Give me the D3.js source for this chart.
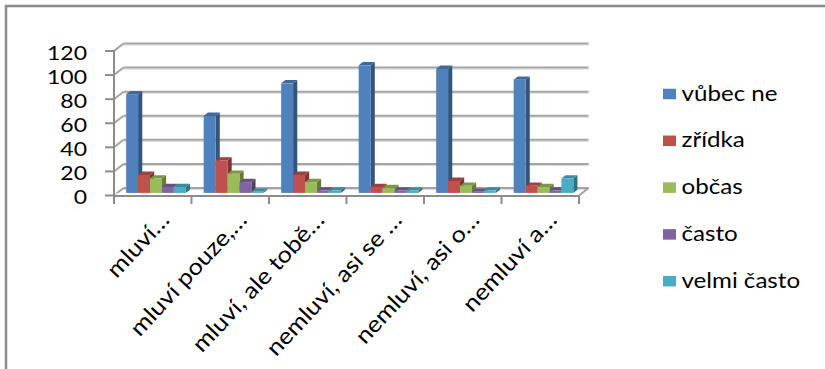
<!DOCTYPE html>
<html><head><meta charset="utf-8">
<script src="https://cdn.jsdelivr.net/npm/d3@7"></script>
<style>html,body{margin:0;padding:0;background:#fff;} svg{display:block}</style>
</head><body>
<script>
const categories = ["mluví…", "mluví pouze,…", "mluví, ale tobě…", "nemluví, asi se …", "nemluví, asi o…", "nemluví a…"];
const seriesNames = ["vůbec ne", "zřídka", "občas", "často", "velmi často"];
const vubecNe   = [82, 64, 91, 106, 103, 94];
const zridka    = [15, 27, 15, 5, 10, 6];
const obcas     = [12, 16, 9, 4, 6, 5];
const casto     = [5, 9, 2, 2, 1, 2];
const velmiCasto = [5, 1, 2, 2, 2, 12];
const yTicks = [0, 20, 40, 60, 80, 100, 120];
const seriesColors = ["#4F81BD", "#C0504D", "#9BBB59", "#8064A2", "#4BACC6"];
const seriesValues = [vubecNe, zridka, obcas, casto, velmiCasto];

const W = 825, H = 369;
const SX = 1.15;               // horizontal stretch applied to upright text
const FONT = "Lato, 'Open Sans', sans-serif";

const svg = d3.select("body").append("svg").attr("width", W).attr("height", H);
svg.append("rect").attr("width", W).attr("height", H).attr("fill", "#fff");

// chart area border (right and bottom edges run past the page)
svg.append("rect").attr("x", 6).attr("y", 6).attr("width", W + 40).attr("height", H + 40)
  .attr("fill", "none").attr("stroke", "#8c8c8c").attr("stroke-width", 2.5);

// simple oblique projection: depth 0 = front plane, 1 = back wall
const DX = 9.5, DY = -7.5;
const x = d3.scaleBand().domain(categories).range([114, 579]);
const y = d3.scaleLinear().domain([0, 120]).range([195.5, 51]);
const P = (px, v, z) => [px + z * DX, y(v) + z * DY];
const line = d3.line();

const grid = svg.append("g");
// back wall gridlines
yTicks.forEach(t => {
  const a = P(114, t, 1), b = P(579, t, 1);
  grid.append("line").attr("x1", a[0]).attr("x2", b[0]).attr("y1", a[1] + 1.6).attr("y2", b[1] + 1.6)
    .attr("stroke", "#dadada").attr("stroke-width", 1);
  grid.append("line").attr("x1", a[0]).attr("x2", b[0]).attr("y1", a[1]).attr("y2", b[1])
    .attr("stroke", "#a3a3a3").attr("stroke-width", 2);
  // side wall diagonals
  const f = P(114, t, 0);
  grid.append("path").attr("d", line([f, a])).attr("stroke", "#a3a3a3").attr("stroke-width", 2).attr("fill", "none");
  // value axis tick
  grid.append("line").attr("x1", 105).attr("x2", 114).attr("y1", y(t)).attr("y2", y(t))
    .attr("stroke", "#8c8c8c").attr("stroke-width", 2);
});
// floor right edge
grid.append("path").attr("d", line([P(579, 0, 0), P(579, 0, 1)])).attr("stroke", "#a3a3a3").attr("stroke-width", 2).attr("fill", "none");

// bars
const bw = x.bandwidth();
const barW = bw / (seriesNames.length + 1.5);
const s = d3.scaleBand().domain(seriesNames).range([barW * 0.75, bw - barW * 0.75]);
const z0 = 0.34, z1 = 0.78;
const bars = svg.append("g");
categories.forEach((c, ci) => {
  seriesNames.forEach((name, si) => {
    const v = seriesValues[si][ci];
    const col = d3.color(seriesColors[si]);
    const xl = x(c) + s(name), xr = xl + s.bandwidth();
    const g = bars.append("g");
    g.append("path").attr("d", line([P(xr, 0, z0), P(xr, v, z0), P(xr, v, z1), P(xr, 0, z1)]) + "Z")
      .attr("fill", col.darker(1.2));
    g.append("path").attr("d", line([P(xl, v, z0), P(xr, v, z0), P(xr, v, z1), P(xl, v, z1)]) + "Z")
      .attr("fill", col.darker(0.6));
    const a = P(xl, v, z0), b = P(xr, 0, z0);
    g.append("rect").attr("x", a[0]).attr("y", a[1]).attr("width", b[0] - a[0]).attr("height", Math.max(0, b[1] - a[1]))
      .attr("fill", col);
  });
});
// front edge of the floor slab, semi-transparent over bar bases
svg.append("rect").attr("x", 114).attr("y", y(0) - 2.6).attr("width", 465).attr("height", 2.6)
  .attr("fill", "#fff").attr("opacity", 0.55);

// axes
const axes = svg.append("g").attr("stroke", "#8c8c8c").attr("stroke-width", 2);
axes.append("line").attr("x1", 114).attr("x2", 114).attr("y1", y(120) - 1).attr("y2", y(0) + 1);
axes.append("line").attr("x1", 113).attr("x2", 579).attr("y1", y(0) + 0.5).attr("y2", y(0) + 0.5);
const edges = categories.map(c => x(c)).concat([x(categories[categories.length - 1]) + bw]);
edges.forEach(e => axes.append("line").attr("x1", e).attr("x2", e).attr("y1", y(0)).attr("y2", y(0) + 8.5));

// value labels
svg.append("g").selectAll("text").data(yTicks).join("text")
  .attr("transform", t => `translate(87,${y(t) + 8.7}) scale(${SX},1)`)
  .attr("text-anchor", "end").attr("font-family", FONT).attr("font-size", 20).attr("fill", "#000")
  .text(t => t);

// category labels, slanted
svg.append("g").selectAll("text").data(categories).join("text")
  .attr("transform", c => `translate(${x(c) + bw / 2 + 18},221) rotate(-47) scale(1.13,1)`)
  .attr("text-anchor", "end").attr("font-family", FONT).attr("font-size", 22.5).attr("fill", "#000")
  .text(c => c);

// legend
const leg = svg.append("g");
seriesNames.forEach((name, i) => {
  const ry = 94 + i * 46.8;
  leg.append("rect").attr("x", 663).attr("y", ry - 5.25).attr("width", 13).attr("height", 10.5).attr("fill", seriesColors[i]);
  leg.append("text").attr("transform", `translate(681.5,${ry + 6.5}) scale(${SX},1)`)
    .attr("font-family", FONT).attr("font-size", 21).attr("fill", "#000").text(name);
});
</script>
</body></html>
